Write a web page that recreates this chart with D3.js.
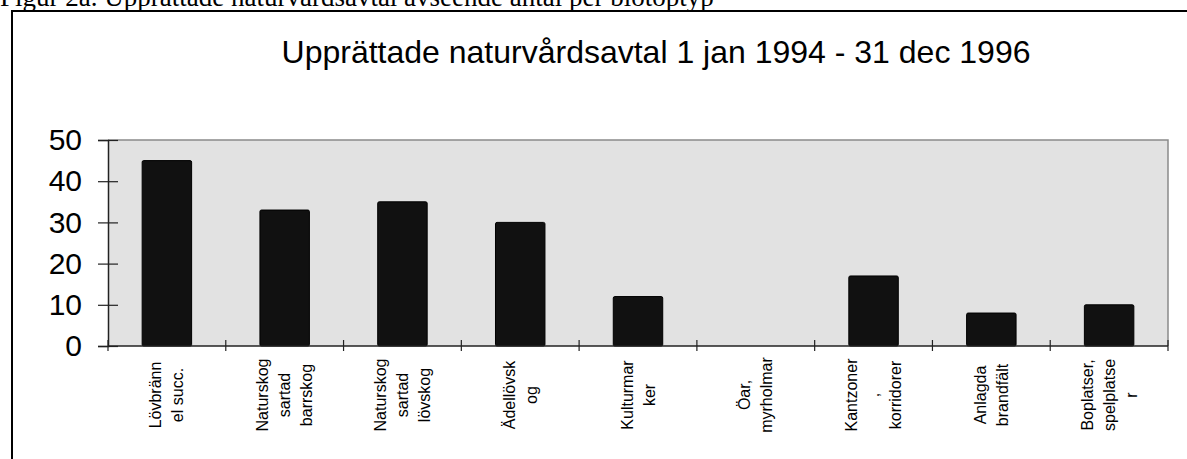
<!doctype html>
<html>
<head>
<meta charset="utf-8">
<script src="https://cdn.jsdelivr.net/npm/d3@7"></script>
<style>
html, body { margin: 0; padding: 0; background: #fff; overflow: hidden; }
svg { display: block; }
.sans { font-family: "Liberation Sans", Arial, sans-serif; }
</style>
</head>
<body>
<script>
// biotope types, label split into the lines shown under the axis
var categories = ["Lövbränn el succ.", "Naturskog sartad barrskog", "Naturskog sartad lövskog",
    "Ädellövskog", "Kulturmarker", "Öar, myrholmar", "Kantzoner, korridorer",
    "Anlagda brandfält", "Boplatser, spelplatser"];
var labelLines = [["Lövbränn", "el succ."], ["Naturskog", "sartad", "barrskog"],
    ["Naturskog", "sartad", "lövskog"], ["Ädellövsk", "og"], ["Kulturmar", "ker"],
    ["Öar,", "myrholmar"], ["Kantzoner", ",", "korridorer"], ["Anlagda", "brandfält"],
    ["Boplatser,", "spelplatse", "r"]];
var counts = [45, 33, 35, 30, 12, 0, 17, 8, 10];
var yTicks = [0, 10, 20, 30, 40, 50];

var caption = "Figur 2a. Upprättade naturvårdsavtal avseende antal per biotoptyp";
var title = "Upprättade naturvårdsavtal 1 jan 1994 - 31 dec 1996";

(function(){
    var W = 1187, H = 459;
    var svg = d3.select("body").append("svg")
        .attr("width", W)
        .attr("height", H);

    // caption above the frame (partly cut off at the top)
    svg.append("text")
        .attr("x", 0)
        .attr("y", 6)
        .style("font-family", "'Liberation Serif', 'Times New Roman', serif")
        .style("font-size", "27px")
        .text(caption);

    // frame, right and bottom sides run off the page
    svg.append("rect")
        .attr("x", 12).attr("y", 11)
        .attr("width", W + 20).attr("height", H + 20)
        .attr("fill", "none")
        .attr("stroke", "#000")
        .attr("stroke-width", 2);

    svg.append("text")
        .attr("class", "sans")
        .attr("x", 656)
        .attr("y", 63)
        .attr("text-anchor", "middle")
        .style("font-size", "32px")
        .text(title);

    var pl = 108, pr = 1168, pt = 140, pb = 346;

    var x = d3.scaleBand().domain(categories).range([pl, pr]);
    var y = d3.scaleLinear().domain([0, 50]).range([pb, pt]);

    // plot area
    svg.append("rect")
        .attr("x", pl).attr("y", pt)
        .attr("width", pr - pl).attr("height", pb - pt)
        .attr("fill", "#e2e2e2");
    svg.append("path")
        .attr("d", "M" + pl + "," + pt + "H" + pr + "V" + pb)
        .attr("fill", "none")
        .attr("stroke", "#8a8a8a")
        .attr("stroke-width", 1.5);

    var bw = x.bandwidth();
    svg.selectAll("rect.bar")
        .data(counts.map(function(v, i){ return {c: categories[i], v: v}; }).filter(function(d){ return d.v > 0; }))
        .enter().append("rect")
        .attr("class", "bar")
        .attr("x", function(d){ return x(d.c) + bw * 0.29; })
        .attr("width", bw * 0.42)
        .attr("y", function(d){ return y(d.v); })
        .attr("height", function(d){ return y(0) - y(d.v); })
        .attr("rx", 1.5)
        .attr("fill", "#111")
        .attr("stroke", "#000")
        .attr("stroke-width", 1);

    // y axis with ticks crossing the line
    var yAxis = svg.append("g")
        .attr("class", "sans")
        .attr("transform", "translate(" + pl + ",0)")
        .call(d3.axisLeft(y).tickValues(yTicks).tickSize(10).tickPadding(16));
    yAxis.attr("font-family", null).attr("font-size", null);
    yAxis.select(".domain").attr("stroke", "#222").attr("stroke-width", 1.5);
    yAxis.selectAll(".tick line").attr("x1", 10).attr("stroke", "#222").attr("stroke-width", 1.2);
    yAxis.selectAll(".tick text")
        .style("font-size", "30px")
        .attr("fill", "#000");

    // x axis line and boundary ticks
    var bounds = categories.map(function(c){ return x(c); }).concat([x.range()[1]]);
    svg.append("line")
        .attr("x1", pl).attr("x2", pr)
        .attr("y1", pb).attr("y2", pb)
        .attr("stroke", "#222").attr("stroke-width", 1.5);
    svg.selectAll("line.xtick")
        .data(bounds)
        .enter().append("line")
        .attr("class", "xtick")
        .attr("x1", function(d){ return d; }).attr("x2", function(d){ return d; })
        .attr("y1", pb - 6).attr("y2", pb + 5)
        .attr("stroke", "#222").attr("stroke-width", 1.2);

    // rotated category labels
    var lab = svg.selectAll("g.xlab")
        .data(labelLines)
        .enter().append("g")
        .attr("class", "xlab sans")
        .attr("transform", function(d, i){
            return "translate(" + (x(categories[i]) + bw / 2) + ",395) rotate(-90)";
        });
    lab.append("text")
        .attr("text-anchor", "middle")
        .style("font-size", "16px")
        .selectAll("tspan")
        .data(function(d){ return d.map(function(t, j){ return {t: t, o: (j - (d.length - 1) / 2) * 22}; }); })
        .enter().append("tspan")
        .attr("x", 0)
        .attr("y", function(d){ return d.o; })
        .attr("dy", "0.35em")
        .text(function(d){ return d.t; });
})();
</script>
</body>
</html>
